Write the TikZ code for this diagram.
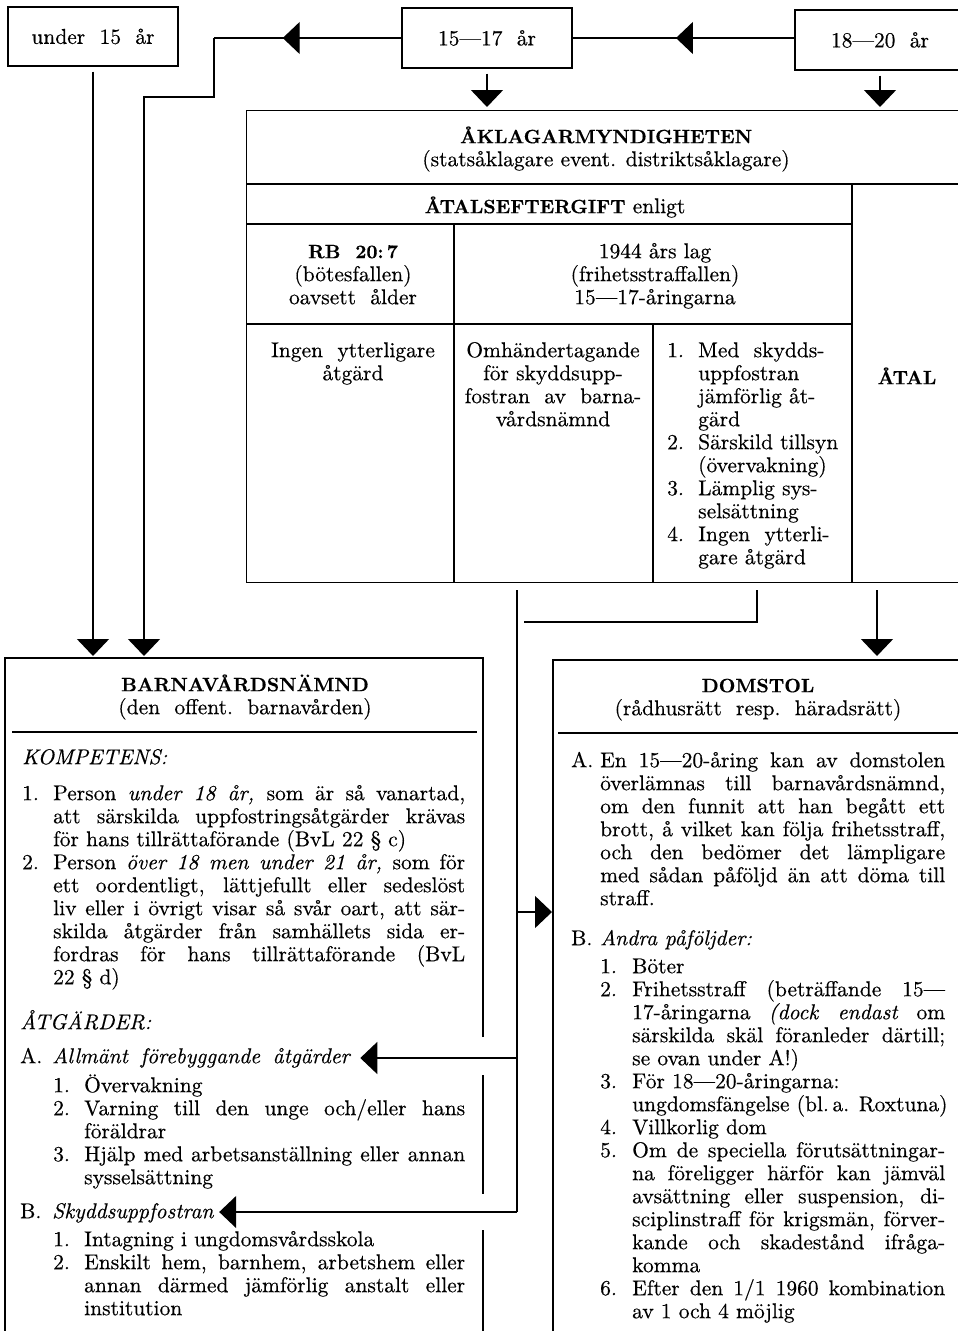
\documentclass[tikz,border=0pt]{standalone}
\usepackage{fontspec}
\setmainfont{lmroman10-regular.otf}[BoldFont=lmroman10-bold.otf, ItalicFont=lmroman10-italic.otf, BoldItalicFont=lmroman10-bolditalic.otf, FakeBold=0.4]
\usetikzlibrary{arrows.meta,decorations.markings}
\newcommand\J[2]{\makebox[#1][s]{#2}}
\newcommand\nb[1]{\makebox[31pt][l]{#1}}
\newcommand\nc[1]{\makebox[32pt][l]{#1}}
\newcommand\tp{\rule{0pt}{20pt}}
\newcommand\ttl[1]{{\fontsize{19.3}{23}\selectfont\bfseries #1}}
\newcommand\basefont{\fontsize{21.5}{23}\selectfont}
\AtBeginDocument{\lineskiplimit=-30pt\relax}
\tikzset{
 every node/.style={font=\basefont, inner sep=0pt},
 ln/.style={line width=1.4pt},
 tip/.style={-{Triangle[length=17pt,width=32pt]}},
 midtip/.style={postaction={decorate},decoration={markings,mark=at position #1 with {\arrow{Triangle[length=17pt,width=32pt]}}}},
 bx/.style={draw,line width=1.4pt},
 blk/.style={anchor=north west, align=left},
 cblk/.style={anchor=north, align=center},
}
\begin{document}
\begin{tikzpicture}[x=1pt,y=-1pt]
\useasboundingbox (0,0) rectangle (958,1331);
% top boxes
\node[bx, minimum width=170pt, minimum height=59pt] (u15) at (93,36.5) {under\ \ 15\ \ år};
\node[bx, minimum width=170pt, minimum height=60pt] (b1517) at (487,38) {15—17\ \ år};
\node[bx, minimum width=170pt, minimum height=60pt] (b1820) at (880,40) {18—20\ \ år};
% prosecutor box
\node[bx, anchor=north west, minimum width=725pt, minimum height=472pt] (akl) at (246,110) {};
\draw[ln] (246,184) -- (966,184);
\draw[ln] (246,224) -- (852,224);
\draw[ln] (246,324) -- (852,324);
\draw[ln] (852,184) -- (852,582);
\draw[ln] (454,224) -- (454,582);
\draw[ln] (653,324) -- (653,582);
\node[cblk] (aklT) at (606,123) {\tp\ttl{ÅKLAGARMYNDIGHETEN}\\(statsåklagare event. distriktsåklagare)};
\node[cblk] (atalef) at (555,193) {\tp\ttl{ÅTALSEFTERGIFT} enligt};
\node[cblk] (rb) at (353,238) {\tp\ttl{RB\ \ 20:\,7}\\(bötesfallen)\\oavsett\ \ ålder};
\node[cblk] (lag) at (655,238) {\tp 1944 års lag\\(frihetsstraffallen)\\15—17-åringarna};
\node[cblk] (ingen) at (353,337) {\tp Ingen\ \ ytterligare\\åtgärd};
\node[cblk] (omh) at (553,337) {\tp Omhändertagande\\för skyddsupp-\\fostran\ \ av\ \ barna-\\vårdsnämnd};
\node[blk] (lista) at (667,337) {\tp\nb{1.}Med\ \ skydds-\\\nb{}uppfostran\\\nb{}jämförlig åt-\\\nb{}gärd\\\nb{2.}Särskild tillsyn\\\nb{}(övervakning)\\\nb{3.}Lämplig sys-\\\nb{}selsättning\\\nb{4.}Ingen\ \ ytterli-\\\nb{}gare åtgärd};
\node[anchor=north] (atal) at (907,364) {\tp\ttl{ÅTAL}};
% barnavardsnamnd box
\node[anchor=north west, minimum width=478pt, minimum height=680pt] (barn) at (5,658) {};
\draw[ln] (483,1037) -- (483,658) -- (5,658) -- (5,1340);
\draw[ln] (483,1075) -- (483,1194);
\draw[ln] (483,1230) -- (483,1340);
\draw[ln] (12,732) -- (477,732);
\node[cblk] (barnT) at (245,671) {\tp\ttl{BARNAVÅRDSNÄMND}\\(den\ \ offent.\ \ barnavården)};
\node[blk] (komp) at (22,744) {\tp\textit{KOMPETENS:}};
\node[blk] (kitems) at (22,780) {\tp\nb{1.}\J{412pt}{Person \textit{under 18 år,} som är så vanartad,}\\
\nb{}\J{412pt}{att särskilda uppfostringsåtgärder krävas}\\
\nb{}för hans tillrättaförande (BvL 22 § c)\\
\nb{2.}\J{412pt}{Person \textit{över 18 men under 21 år,} som för}\\
\nb{}\J{412pt}{ett oordentligt, lättjefullt eller sedeslöst}\\
\nb{}\J{412pt}{liv eller i övrigt visar så svår oart, att sär-}\\
\nb{}\J{412pt}{skilda åtgärder från samhällets sida er-}\\
\nb{}\J{412pt}{fordras för hans tillrättaförande (BvL}\\
\nb{}22 § d)};
\node[blk] (atg) at (20,1009) {\tp\textit{ÅTGÄRDER:}};
\node[blk] (barnA) at (20,1043) {\tp\makebox[32pt][l]{A.}\textit{Allmänt\hspace{5pt} förebyggande\hspace{5pt} åtgärder}};
\node[blk] (aitems) at (53,1072) {\tp\nb{1.}Övervakning\\
\nb{2.}\J{381pt}{Varning till den unge och/eller hans}\\
\nb{}föräldrar\\
\nb{3.}\J{381pt}{Hjälp med arbetsanställning eller annan}\\
\nb{}sysselsättning};
\node[blk] (barnB) at (20,1198) {\tp\makebox[32pt][l]{B.}\textit{Skyddsuppfostran}};
\node[blk] (bitems) at (53,1226) {\tp\nb{1.}Intagning i ungdomsvårdsskola\\
\nb{2.}\J{381pt}{Enskilt hem, barnhem, arbetshem eller}\\
\nb{}\J{381pt}{annan därmed jämförlig anstalt eller}\\
\nb{}institution};
% domstol box
\node[anchor=north west, minimum width=413pt, minimum height=680pt] (dom) at (553,660) {};
\draw[ln] (966,660) -- (553,660) -- (553,1340);
\draw[ln] (558,733) -- (966,733);
\node[cblk] (domT) at (758,672) {\tp\ttl{DOMSTOL}\\(rådhusrätt\ \ resp.\ \ häradsrätt)};
\node[blk] (domA) at (571,747) {\tp\makebox[29pt][l]{A.}\J{345pt}{En 15—20-åring kan av domstolen}\\
\makebox[29pt]{}\J{345pt}{överlämnas till barnavårdsnämnd,}\\
\makebox[29pt]{}\J{345pt}{om den funnit att han begått ett}\\
\makebox[29pt]{}\J{345pt}{brott, å vilket kan följa frihetsstraff,}\\
\makebox[29pt]{}\J{345pt}{och den bedömer det lämpligare}\\
\makebox[29pt]{}\J{345pt}{med sådan påföljd än att döma till}\\
\makebox[29pt]{}straff.};
\node[blk] (domB) at (571,925) {\tp\makebox[29pt][l]{B.}\textit{Andra påföljder:}};
\node[blk] (domBi) at (600,953) {\tp\nc{1.}Böter\\
\nc{2.}\J{313pt}{Frihetsstraff (beträffande 15—}\\
\nc{}\J{313pt}{17-åringarna \textit{(dock endast} om}\\
\nc{}\J{313pt}{särskilda skäl föranleder därtill;}\\
\nc{}se ovan under A!)\\
\nc{3.}För 18—20-åringarna:\\
\nc{}ungdomsfängelse (bl.\,a. Roxtuna)\\
\nc{4.}Villkorlig dom\\
\nc{5.}\J{313pt}{Om de speciella förutsättningar-}\\
\nc{}\J{313pt}{na föreligger härför kan jämväl}\\
\nc{}\J{313pt}{avsättning eller suspension, di-}\\
\nc{}\J{313pt}{sciplinstraff för krigsmän, förver-}\\
\nc{}\J{313pt}{kande och skadestånd ifråga-}\\
\nc{}komma\\
\nc{6.}\J{313pt}{Efter den 1/1 1960 kombination}\\
\nc{}av 1 och 4 möjlig};
% connectors
\draw[ln, midtip=0.534] (b1517.east -| b1820.west) -- (b1517.east);
\coordinate (c1) at (214,38);
\coordinate (c2) at (144,97);
\draw[ln, midtip=0.633] (b1517.west) -- (c1);
\draw[ln, tip, shorten >=2pt] (c1) |- (c2) -- (c2 |- barn.north);
\draw[ln, tip, shorten <=5pt, shorten >=2pt] (u15.south) -- (u15.south |- barn.north);
\draw[ln, tip, shorten <=5pt, shorten >=3pt] (b1517.south) -- (b1517.south |- akl.north);
\draw[ln, tip, shorten <=5pt, shorten >=3pt] (b1820.south) -- (b1820.south |- akl.north);
\coordinate (j1) at (517,590);
\coordinate (jD) at (517,912);
\coordinate (jA) at (517,1058);
\coordinate (jB) at (517,1212);
\draw[ln] (j1) -- (jB);
\path (barnA.east) ++(9,0) coordinate (tA);
\path (barnB.east) ++(5,0) coordinate (tB);
\draw[ln, tip] (jA) -- (jA -| tA);
\draw[ln, tip] (jB) -- (jB -| tB);
\draw[ln, tip, shorten >=1pt] (jD) -- (jD -| dom.west);
\coordinate (k1) at (757,590);
\coordinate (k2) at (524,622);
\draw[ln] (k1) |- (k2);
\coordinate (a1) at (877,590);
\draw[ln, tip, shorten >=4pt] (a1) -- (a1 |- dom.north);
\end{tikzpicture}
\end{document}
